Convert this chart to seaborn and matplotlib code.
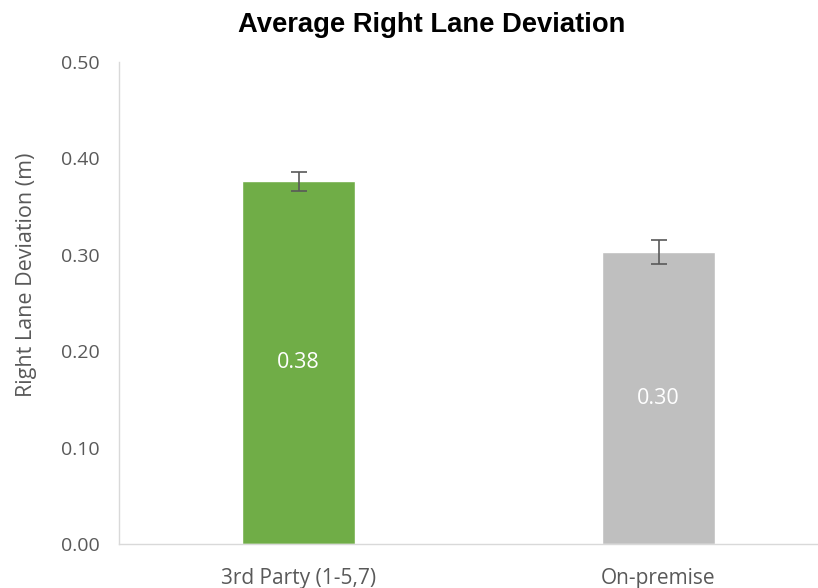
import matplotlib
matplotlib.use("Agg")
import matplotlib.pyplot as plt
import seaborn as sns
import pandas as pd

categories = ["3rd Party (1-5,7)", "On-premise"]
means = [0.376, 0.303]
errors = [0.010, 0.012]
bar_labels = ["0.38", "0.30"]
colors = ["#70AD47", "#BFBFBF"]

df = pd.DataFrame({"group": categories, "deviation": means})

sns.set_style("white")
plt.rcParams["font.family"] = ["Open Sans", "DejaVu Sans"]

fig = plt.figure(figsize=(8.18, 5.88), dpi=100)
ax = fig.add_axes([0.145, 0.074, 0.855, 0.821])

sns.barplot(data=df, x="group", y="deviation", hue="group", palette=colors,
            width=0.314, legend=False, ax=ax, saturation=1)
ax.errorbar(range(len(categories)), means, yerr=errors, fmt="none",
            ecolor="#595959", elinewidth=1.2, capsize=6, capthick=1.2)

for i, (m, lab) in enumerate(zip(means, bar_labels)):
    ax.text(i, m / 2, lab, ha="center", va="center", color="white", fontsize=15.5)

ax.set_xlim(-0.5, 1.443)
ax.set_ylim(0, 0.5)
ticks = [0, 0.1, 0.2, 0.3, 0.4, 0.5]
ax.set_yticks(ticks)
ax.set_yticklabels([f"{v:.2f}" for v in ticks])
ax.tick_params(axis="both", colors="#595959", length=0)
ax.tick_params(axis="y", pad=13.5, labelsize=14)
ax.tick_params(axis="x", pad=17, labelsize=15)
ax.set_xlabel("")
ax.set_ylabel("")
fig.text(0.033, 0.532, "Right Lane Deviation (m)", rotation=90, ha="center",
         va="center", color="#595959", fontsize=15.5)

for side in ["top", "right"]:
    ax.spines[side].set_visible(False)
for side in ["left", "bottom"]:
    ax.spines[side].set_color("#D9D9D9")
    ax.spines[side].set_linewidth(1)

fig.text(0.528, 0.957, "Average Right Lane Deviation", ha="center", va="center",
         fontsize=19.7, fontweight="bold", family="Liberation Sans", color="black")

fig.savefig("out.png", dpi=100)
